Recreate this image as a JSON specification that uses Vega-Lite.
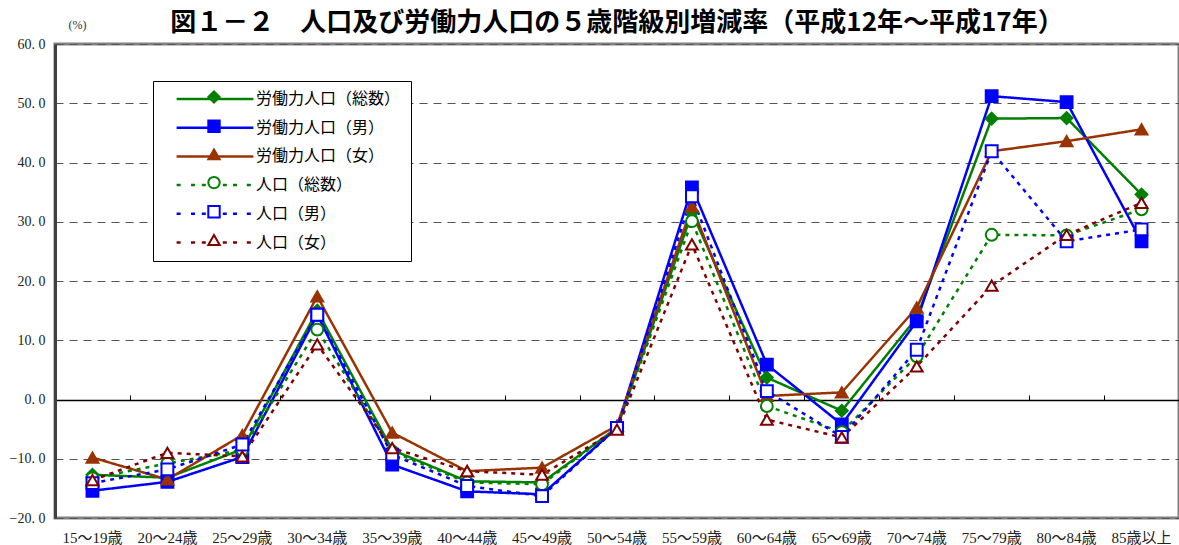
{
  "$schema": "https://vega.github.io/schema/vega-lite/v6.json",
  "width": 1124,
  "height": 474,
  "autosize": "none",
  "padding": {"left": 55, "top": 44, "right": 0, "bottom": 27},
  "background": "white",
  "title": {
    "text": "図１－２　人口及び労働力人口の５歳階級別増減率（平成12年～平成17年）",
    "font": "Noto Sans CJK JP",
    "fontSize": 26,
    "fontWeight": "bold",
    "color": "#000000",
    "anchor": "middle",
    "offset": -18
  },
  "config": {
    "view": {"stroke": "#808080", "strokeWidth": 3},
    "axis": {"labelFont": "Liberation Serif, Noto Sans CJK JP", "labelColor": "#222222"}
  },
  "data": {
    "values": [
      {"age": "15～19歳", "労働力人口（総数）": -12.7, "労働力人口（男）": -15.4, "労働力人口（女）": -9.8, "人口（総数）": -13.3, "人口（男）": -14.1, "人口（女）": -13.6},
      {"age": "20～24歳", "労働力人口（総数）": -13.2, "労働力人口（男）": -13.9, "労働力人口（女）": -13.5, "人口（総数）": -10.8, "人口（男）": -11.8, "人口（女）": -9.0},
      {"age": "25～29歳", "労働力人口（総数）": -8.4, "労働力人口（男）": -9.7, "労働力人口（女）": -6.0, "人口（総数）": -8.5, "人口（男）": -7.6, "人口（女）": -9.6},
      {"age": "30～34歳", "労働力人口（総数）": 15.0, "労働力人口（男）": 14.3, "労働力人口（女）": 17.4, "人口（総数）": 11.8, "人口（男）": 14.3, "人口（女）": 9.3},
      {"age": "35～39歳", "労働力人口（総数）": -8.5, "労働力人口（男）": -11.0, "労働力人口（女）": -5.6, "人口（総数）": -8.8, "人口（男）": -9.3, "人口（女）": -8.2},
      {"age": "40～44歳", "労働力人口（総数）": -13.8, "労働力人口（男）": -15.5, "労働力人口（女）": -12.1, "人口（総数）": -14.0, "人口（男）": -14.6, "人口（女）": -12.1},
      {"age": "45～49歳", "労働力人口（総数）": -14.0, "労働力人口（男）": -16.0, "労働力人口（女）": -11.5, "人口（総数）": -14.3, "人口（男）": -16.3, "人口（女）": -12.7},
      {"age": "50～54歳", "労働力人口（総数）": -4.8, "労働力人口（男）": -4.8, "労働力人口（女）": -4.4, "人口（総数）": -4.8, "人口（男）": -4.8, "人口（女）": -5.1},
      {"age": "55～59歳", "労働力人口（総数）": 31.5, "労働力人口（男）": 35.8, "労働力人口（女）": 32.6, "人口（総数）": 30.1, "人口（男）": 34.3, "人口（女）": 26.2},
      {"age": "60～64歳", "労働力人口（総数）": 3.7, "労働力人口（男）": 5.9, "労働力人口（女）": 0.6, "人口（総数）": -1.1, "人口（男）": 1.4, "人口（女）": -3.4},
      {"age": "65～69歳", "労働力人口（総数）": -1.9, "労働力人口（男）": -4.2, "労働力人口（女）": 1.2, "人口（総数）": -5.5, "人口（男）": -6.3, "人口（女）": -6.4},
      {"age": "70～74歳", "労働力人口（総数）": 13.8, "労働力人口（男）": 13.2, "労働力人口（女）": 15.5, "人口（総数）": 7.3, "人口（男）": 8.4, "人口（女）": 5.6},
      {"age": "75～79歳", "労働力人口（総数）": 47.4, "労働力人口（男）": 51.2, "労働力人口（女）": 41.9, "人口（総数）": 27.8, "人口（男）": 41.9, "人口（女）": 19.2},
      {"age": "80～84歳", "労働力人口（総数）": 47.5, "労働力人口（男）": 50.2, "労働力人口（女）": 43.6, "人口（総数）": 27.7, "人口（男）": 26.7, "人口（女）": 27.8},
      {"age": "85歳以上", "労働力人口（総数）": 34.6, "労働力人口（男）": 26.7, "労働力人口（女）": 45.6, "人口（総数）": 32.1, "人口（男）": 28.7, "人口（女）": 33.2}
    ]
  },
  "transform": [
    {"fold": ["労働力人口（総数）", "労働力人口（男）", "労働力人口（女）", "人口（総数）", "人口（男）", "人口（女）"], "as": ["series", "value"]}
  ],
  "encoding": {
    "x": {
      "field": "age",
      "type": "nominal",
      "sort": null,
      "scale": {"paddingInner": 0, "paddingOuter": 0}
    },
    "y": {
      "field": "value",
      "type": "quantitative",
      "scale": {"domain": [-20, 60], "nice": false, "zero": false},
      "axis": {
        "values": [-20, -10, 0, 10, 20, 30, 40, 50, 60],
        "labelExpr": "replace(format(datum.value, '.1f'), '.', '. ')",
        "labelFontSize": 14,
        "labelPadding": 10,
        "ticks": false,
        "domain": true,
        "domainColor": "#404040",
        "domainWidth": 3,
        "grid": true,
        "gridDash": [8, 6],
        "gridColor": "#555555",
        "gridWidth": 1,
        "title": "(%)",
        "titleAngle": 0,
        "titleX": 22,
        "titleY": -20,
        "titleAlign": "center",
        "titleBaseline": "middle",
        "titleFont": "Liberation Serif, Noto Sans CJK JP",
        "titleFontSize": 12,
        "titleFontWeight": "normal",
        "titleColor": "#333333"
      }
    }
  },
  "layer": [
    {
      "mark": {"type": "line", "strokeWidth": 2.5},
      "encoding": {
        "x": {
          "field": "age",
          "type": "nominal",
          "sort": null,
          "axis": {
            "orient": "top",
            "offset": -356,
            "labels": false,
            "title": null,
            "ticks": true,
            "tickBand": "extent",
            "tickSize": 5,
            "tickColor": "#000000",
            "tickWidth": 1,
            "domain": true,
            "domainColor": "#000000",
            "domainWidth": 1.5,
            "grid": false
          }
        },
        "color": {
          "field": "series",
          "type": "nominal",
          "scale": {
            "domain": ["労働力人口（総数）", "労働力人口（男）", "労働力人口（女）", "人口（総数）", "人口（男）", "人口（女）"],
            "range": ["#008000", "#0000FF", "#993300", "#008000", "#0000FF", "#800000"]
          },
          "legend": {
            "orient": "none",
            "legendX": 98,
            "legendY": 37,
            "title": null,
            "strokeColor": "#000000",
            "fillColor": "white",
            "padding": 10,
            "labelFont": "Noto Sans CJK JP",
            "labelFontSize": 16,
            "labelColor": "#000000",
            "symbolType": "stroke",
            "symbolSize": 144,
            "symbolStrokeWidth": 2.5,
            "symbolOffset": 44,
            "labelOffset": 33,
            "rowPadding": 12.7,
            "labelLimit": 300,
            "encode": {
              "symbols": {
                "update": {
                  "shape": {"signal": "indexof(['人口（総数）', '人口（男）', '人口（女）'], datum.value) >= 0 ? 'M-6.4,0L-5.3,0M-4,0L-3,0M-2.2,0L-1.3,0M1.3,0L2.2,0M3,0L4,0M5.3,0L6.4,0' : 'M-6.4,0L6.4,0'"},
                  "strokeWidth": {"value": 2.5},
                  "fill": {"value": "transparent"},
                  "strokeDash": {"value": [1, 0]},
                  "opacity": {"value": 1}
                }
              }
            }
          }
        },
        "strokeDash": {
          "field": "series",
          "type": "nominal",
          "scale": {
            "domain": ["労働力人口（総数）", "労働力人口（男）", "労働力人口（女）", "人口（総数）", "人口（男）", "人口（女）"],
            "range": [[1, 0], [1, 0], [1, 0], [4, 5], [4, 5], [4, 5]]
          },
          "legend": null
        }
      }
    },
    {
      "mark": {"type": "point", "filled": true, "strokeWidth": 2, "opacity": 1, "size": 140},
      "encoding": {
        "x": {
          "field": "age",
          "type": "nominal",
          "sort": null,
          "axis": {
            "orient": "bottom",
            "title": null,
            "labelAngle": 0,
            "labelFontSize": 15,
            "labelColor": "#222222",
            "labelPadding": 12,
            "ticks": false,
            "domain": false,
            "grid": false
          }
        },
        "shape": {
          "field": "series",
          "type": "nominal",
          "scale": {
            "domain": ["労働力人口（総数）", "労働力人口（男）", "労働力人口（女）", "人口（総数）", "人口（男）", "人口（女）"],
            "range": ["diamond", "square", "triangle-up", "circle", "square", "triangle-up"]
          },
          "legend": {
            "orient": "top-left",
            "offset": 35,
            "title": null,
            "padding": 10,
            "labelFont": "Noto Sans CJK JP",
            "labelFontSize": 16,
            "labelExpr": "''",
            "symbolSize": 130,
            "symbolStrokeWidth": 2,
            "symbolOffset": 106,
            "rowPadding": 9.2,
            "encode": {
              "symbols": {
                "update": {
                  "size": {"value": 130},
                  "fill": {"signal": "{'労働力人口（総数）': '#008000', '労働力人口（男）': '#0000FF', '労働力人口（女）': '#993300'}[datum.value] || '#FFFFFF'"},
                  "stroke": {"signal": "{'労働力人口（総数）': '#008000', '労働力人口（男）': '#0000FF', '労働力人口（女）': '#993300', '人口（総数）': '#008000', '人口（男）': '#0000FF', '人口（女）': '#800000'}[datum.value]"},
                  "strokeWidth": {"value": 2},
                  "opacity": {"value": 1}
                }
              }
            }
          }
        },
        "fill": {
          "field": "series",
          "type": "nominal",
          "scale": {
            "domain": ["労働力人口（総数）", "労働力人口（男）", "労働力人口（女）", "人口（総数）", "人口（男）", "人口（女）"],
            "range": ["#008000", "#0000FF", "#993300", "#FFFFFF", "#FFFFFF", "#FFFFFF"]
          },
          "legend": null
        },
        "stroke": {
          "field": "series",
          "type": "nominal",
          "scale": {
            "domain": ["労働力人口（総数）", "労働力人口（男）", "労働力人口（女）", "人口（総数）", "人口（男）", "人口（女）"],
            "range": ["#008000", "#0000FF", "#993300", "#008000", "#0000FF", "#800000"]
          },
          "legend": null
        }
      }
    }
  ]
}
